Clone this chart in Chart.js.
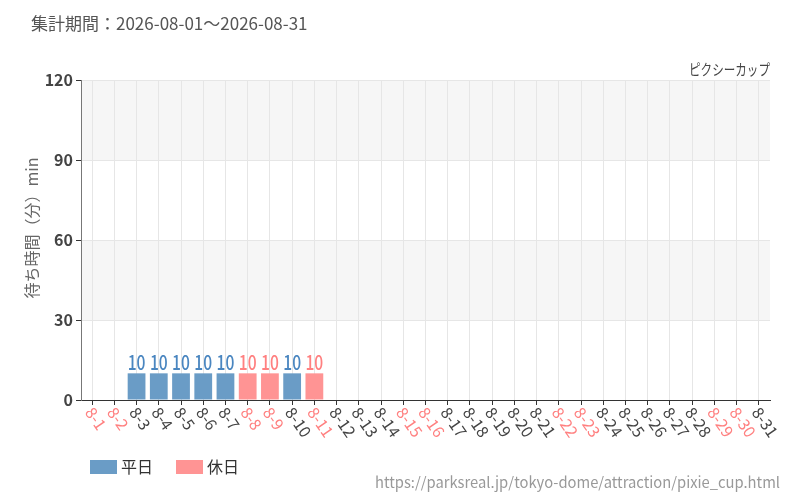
<!DOCTYPE html>
<html>
<head>
<meta charset="utf-8">
<script src="https://cdn.jsdelivr.net/npm/chart.js@4"></script>
<style>
  html, body { margin: 0; padding: 0; background: #fff; }
  #wrap { width: 800px; height: 500px; }
</style>
</head>
<body>
<div id="wrap"><canvas id="chart" width="800" height="500"></canvas></div>
<script>
/* ── data ── */
const DAYS = ['8-1','8-2','8-3','8-4','8-5','8-6','8-7','8-8','8-9','8-10','8-11','8-12','8-13','8-14','8-15','8-16',
              '8-17','8-18','8-19','8-20','8-21','8-22','8-23','8-24','8-25','8-26','8-27','8-28','8-29','8-30','8-31'];
const HOLIDAYS = ['8-1','8-2','8-8','8-9','8-11','8-15','8-16','8-22','8-23','8-29','8-30'];
const WEEKDAY_WAIT = [null,null,10,10,10,10,10,null,null,10,null,null,null,null,null,null,
                      null,null,null,null,null,null,null,null,null,null,null,null,null,null,null];
const HOLIDAY_WAIT = [null,null,null,null,null,null,null,10,10,null,10,null,null,null,null,null,
                      null,null,null,null,null,null,null,null,null,null,null,null,null,null,null];
const Y_MIN = 0, Y_MAX = 120, Y_STEP = 30;

const TITLE = '集計期間：2026-08-01～2026-08-31';
const ATTRACTION = 'ピクシーカップ';
const Y_TITLE = '待ち時間（分）min';
const SOURCE_URL = 'https://parksreal.jp/tokyo-dome/attraction/pixie_cup.html';

const C_WEEKDAY = '#6a9cc6', C_HOLIDAY = '#ff9494';
const C_WEEKDAY_TXT = '#4a86c0', C_HOLIDAY_TXT = '#ff8080';
const JP = '"Noto Sans CJK JP", "Noto Sans", sans-serif';

/* ── background bands ── */
const bands = {
  id: 'bands',
  beforeDraw(chart) {
    const { ctx, chartArea: a, scales: { y } } = chart;
    ctx.save();
    ctx.fillStyle = '#f6f6f6';
    for (let v = Y_MAX; v > Y_MIN; v -= Y_STEP * 2) {
      const t = y.getPixelForValue(v), b = y.getPixelForValue(v - Y_STEP);
      ctx.fillRect(a.left, t, a.right - a.left, b - t);
    }
    ctx.restore();
  },
};

/* ── texts: title, rotated day labels, bar values, legend, url ── */
const extras = {
  id: 'extras',
  afterDraw(chart) {
    const { ctx, chartArea: a, scales: { x } } = chart;
    ctx.save();

    ctx.fillStyle = '#555';
    ctx.font = `17px ${JP}`;
    ctx.textBaseline = 'middle';
    ctx.textAlign = 'left';
    ctx.fillText(TITLE, 31, 24, 278);

    ctx.fillStyle = '#444';
    ctx.font = `15px ${JP}`;
    ctx.textAlign = 'right';
    ctx.fillText(ATTRACTION, a.right, 69, 81);

    // y title
    ctx.save();
    ctx.translate(32, 228);
    ctx.rotate(-Math.PI / 2);
    ctx.textAlign = 'center';
    ctx.fillStyle = '#666';
    ctx.font = `16px ${JP}`;
    ctx.fillText(Y_TITLE, 0, 0, 146);
    ctx.restore();

    // day labels, rotated clockwise
    ctx.font = `16px ${JP}`;
    ctx.textAlign = 'left';
    DAYS.forEach((d, i) => {
      const px = x.getPixelForValue(i);
      ctx.save();
      ctx.translate(px - 3, a.bottom + 9);
      ctx.rotate(55 * Math.PI / 180);
      ctx.fillStyle = HOLIDAYS.includes(d) ? C_HOLIDAY_TXT : '#444';
      ctx.fillText(d, 0, 0);
      ctx.restore();
    });

    // value labels above bars (condensed)
    ctx.font = `500 20px ${JP}`;
    ctx.textAlign = 'center';
    ctx.textBaseline = 'alphabetic';
    chart.data.datasets.forEach((ds, di) => {
      const meta = chart.getDatasetMeta(di);
      ctx.fillStyle = ds.labelColor;
      meta.data.forEach((bar, i) => {
        if (ds.data[i] == null) return;
        ctx.save();
        ctx.translate(bar.x, bar.y - 3);
        ctx.scale(0.78, 1);
        ctx.fillText(String(ds.data[i]), 0, 0);
        ctx.restore();
      });
    });

    // legend
    ctx.font = `16px ${JP}`;
    ctx.textAlign = 'left';
    ctx.textBaseline = 'middle';
    let lx = 90;
    chart.data.datasets.forEach(ds => {
      ctx.fillStyle = ds.backgroundColor;
      ctx.fillRect(lx, 460, 27, 14);
      ctx.fillStyle = '#333';
      ctx.fillText(ds.label, lx + 31, 467);
      lx += 31 + ctx.measureText(ds.label).width + 23;
    });

    ctx.fillStyle = '#999';
    ctx.font = `15px ${JP}`;
    ctx.textAlign = 'right';
    ctx.fillText(SOURCE_URL, 780, 482, 405);

    ctx.restore();
  },
};

new Chart(document.getElementById('chart'), {
  type: 'bar',
  data: {
    labels: DAYS,
    datasets: [
      { label: '平日', data: WEEKDAY_WAIT, backgroundColor: C_WEEKDAY, labelColor: C_WEEKDAY_TXT,
        barPercentage: 0.8, categoryPercentage: 1 },
      { label: '休日', data: HOLIDAY_WAIT, backgroundColor: C_HOLIDAY, labelColor: C_HOLIDAY_TXT,
        barPercentage: 0.8, categoryPercentage: 1 },
    ],
  },
  options: {
    responsive: false,
    animation: false,
    layout: { padding: { top: 80, right: 30, bottom: 0, left: 0 } },
    plugins: { legend: { display: false }, tooltip: { enabled: false } },
    scales: {
      x: {
        stacked: true,
        grid: { offset: false, color: '#e6e6e6', tickColor: '#333', tickLength: 5 },
        border: { color: '#333' },
        ticks: { display: false },
        afterFit: s => { s.height = 100; },
      },
      y: {
        min: Y_MIN, max: Y_MAX,
        ticks: { stepSize: Y_STEP, color: '#444', padding: 3, font: { family: JP, size: 16, weight: 'bold' } },
        grid: { color: '#e6e6e6', tickColor: '#333', tickLength: 5 },
        border: { color: '#777' },
        afterFit: s => { s.width = 81; },
      },
    },
  },
  plugins: [bands, extras],
});
</script>
</body>
</html>
